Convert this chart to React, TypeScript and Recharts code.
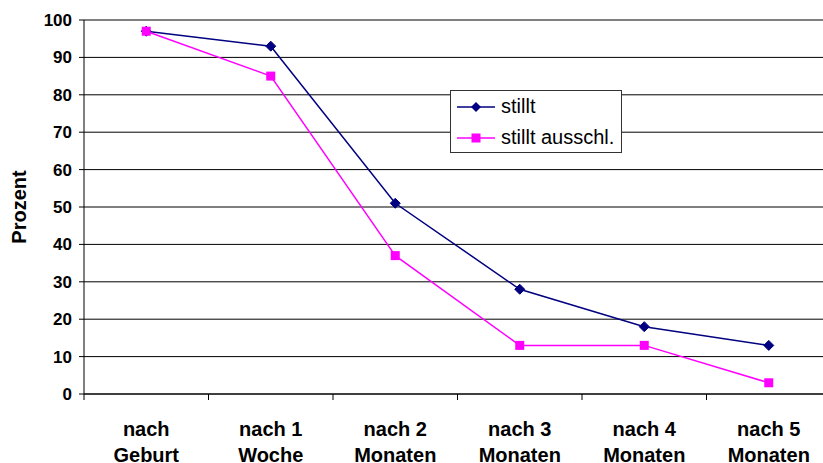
import React from 'react';
import { LineChart, Line, XAxis, YAxis, CartesianGrid, Legend, Label } from 'recharts';

const categories = [
  ['nach', 'Geburt'],
  ['nach 1', 'Woche'],
  ['nach 2', 'Monaten'],
  ['nach 3', 'Monaten'],
  ['nach 4', 'Monaten'],
  ['nach 5', 'Monaten'],
];
const stillt = [97, 93, 51, 28, 18, 13];
const stilltAusschl = [97, 85, 37, 13, 13, 3];
const yTicks = [0, 10, 20, 30, 40, 50, 60, 70, 80, 90, 100];

const NAVY = '#000080';
const MAGENTA = '#FF00FF';
const FONT = '"Liberation Sans", Arial, sans-serif';

// points sit in the middle of each category slot, slot borders get the tick marks
const data = categories.map((c, i) => ({
  pos: i + 0.5,
  stillt: stillt[i],
  ausschl: stilltAusschl[i],
}));
const xTicks: number[] = [];
for (let i = 0; i <= categories.length; i++) {
  xTicks.push(i);
  if (i < categories.length) xTicks.push(i + 0.5);
}

const Diamond = (props: any) => {
  const { cx, cy } = props;
  if (cx == null || cy == null) return null;
  const r = 5;
  return (
    <path
      d={`M${cx},${cy - r}L${cx + r},${cy}L${cx},${cy + r}L${cx - r},${cy}Z`}
      fill={NAVY}
      stroke={NAVY}
    />
  );
};

const Square = (props: any) => {
  const { cx, cy } = props;
  if (cx == null || cy == null) return null;
  const s = 4.5;
  return <rect x={cx - s} y={cy - s} width={s * 2} height={s * 2} fill={MAGENTA} />;
};

const XTick = (props: any) => {
  const { x, y, payload } = props;
  const v = payload.value;
  if (Number.isInteger(v)) {
    return <line x1={x} x2={x} y1={y} y2={y + 6} stroke="#000" />;
  }
  const lines = categories[Math.floor(v)];
  return (
    <text
      x={x}
      y={y}
      textAnchor="middle"
      fontFamily={FONT}
      fontWeight="bold"
      fontSize={20}
      fill="#000"
    >
      <tspan x={x} dy={42}>{lines[0]}</tspan>
      <tspan x={x} dy={26}>{lines[1]}</tspan>
    </text>
  );
};

const LegendBox = (props: any) => {
  const { payload } = props;
  return (
    <div
      style={{
        border: '1px solid #333',
        background: '#fff',
        width: 170,
        height: 61,
        boxSizing: 'content-box',
        fontFamily: FONT,
        fontSize: 20,
      }}
    >
      {(payload || []).map((p: any) => (
        <div
          key={p.value}
          style={{ display: 'flex', alignItems: 'center', height: 31, marginTop: 0 }}
        >
          <svg width={50} height={20} style={{ flex: 'none' }}>
            <line x1={6} x2={44} y1={10} y2={10} stroke={p.color} strokeWidth={1.5} />
            {p.dataKey === 'stillt' ? (
              <path d="M25,5L30,10L25,15L20,10Z" fill={p.color} />
            ) : (
              <rect x={20.5} y={5.5} width={9} height={9} fill={p.color} />
            )}
          </svg>
          <span style={{ color: '#000' }}>{p.value}</span>
        </div>
      ))}
    </div>
  );
};

export default function App() {
  return (
    <div
      style={{
        position: 'absolute',
        left: 0,
        top: 0,
        width: 823,
        height: 463,
        overflow: 'hidden',
        background: '#fff',
      }}
    >
      <LineChart
        width={840}
        height={463}
        data={data}
        margin={{ top: 20, right: 9, left: 0, bottom: 0 }}
      >
        <CartesianGrid vertical={false} stroke="#000" strokeWidth={1} />
        <XAxis
          dataKey="pos"
          type="number"
          domain={[0, categories.length]}
          ticks={xTicks}
          interval={0}
          tickLine={false}
          tickSize={0}
          tickMargin={0}
          height={69}
          axisLine={{ stroke: '#000' }}
          tick={<XTick />}
        />
        <YAxis
          width={84}
          domain={[0, 100]}
          ticks={yTicks}
          interval={0}
          tickSize={5}
          tickMargin={7}
          axisLine={{ stroke: '#000' }}
          tickLine={{ stroke: '#000' }}
          tick={{ fill: '#000', fontSize: 17, fontWeight: 'bold', fontFamily: FONT }}
        >
          <Label
            content={(p: any) => {
              const vb = p.viewBox || {};
              const cy = (vb.y ?? 20) + (vb.height ?? 374) / 2;
              const cx = 19;
              return (
                <text
                  x={cx}
                  y={cy}
                  transform={`rotate(-90, ${cx}, ${cy})`}
                  textAnchor="middle"
                  dominantBaseline="central"
                  fontFamily={FONT}
                  fontWeight="bold"
                  fontSize={20}
                  fill="#000"
                >
                  Prozent
                </text>
              );
            }}
          />
        </YAxis>
        <Legend
          layout="horizontal"
          verticalAlign="middle"
          align="center"
          wrapperStyle={{ left: 450, top: 90, width: 172 }}
          content={<LegendBox />}
        />
        <Line
          type="linear"
          dataKey="stillt"
          name="stillt"
          stroke={NAVY}
          strokeWidth={1.5}
          dot={<Diamond />}
          activeDot={false}
          isAnimationActive={false}
        />
        <Line
          type="linear"
          dataKey="ausschl"
          name="stillt ausschl."
          stroke={MAGENTA}
          strokeWidth={1.5}
          dot={<Square />}
          activeDot={false}
          isAnimationActive={false}
        />
      </LineChart>
    </div>
  );
}
